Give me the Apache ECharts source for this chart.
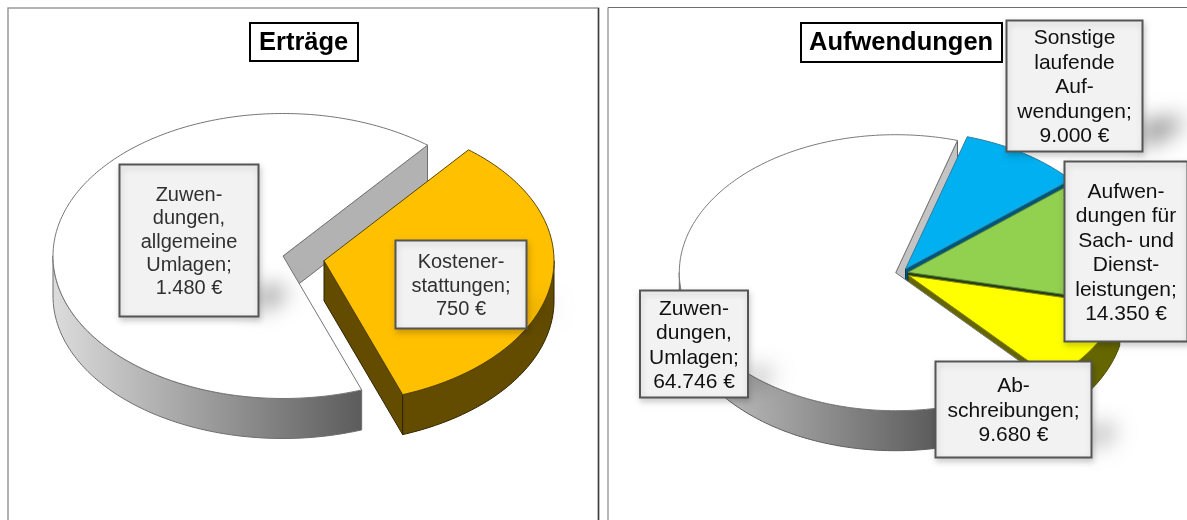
<!DOCTYPE html>
<html lang="de">
<head>
<meta charset="utf-8">
<title>Erträge und Aufwendungen</title>
<style>html,body{margin:0;padding:0;background:#fff}#chart{width:1187px;height:520px;filter:blur(0.35px)}</style>
<script src="https://cdn.jsdelivr.net/npm/echarts@6/dist/echarts.min.js"></script>
</head>
<body>
<div id="chart"></div>
<script>
// ---- data ----
const ertraegeTitle = 'Erträge';
const ertraegeCategories = ['Zuwen-\ndungen,\nallgemeine\nUmlagen', 'Kostener-\nstattungen'];
const ertraegeValues = [1480, 750];

const aufwendungenTitle = 'Aufwendungen';
const aufwendungenCategories = [
  'Zuwen-\ndungen,\nUmlagen',
  'Sonstige\nlaufende\nAuf-\nwendungen',
  'Aufwen-\ndungen für\nSach- und\nDienst-\nleistungen',
  'Ab-\nschreibungen'
];
const aufwendungenValues = [64746, 9000, 14350, 9680];

// ---- layout and style ----
const leftPie = {
  cx: 283, cy: 256, rx: 230, ry: 142.5, depth: 40, startAngle: 70,
  font: 20, lineHeight: 23.4, textColor: '#303030',
  gradient: [53, 361],
  slices: [
    { explode: [0, 0], top: '#ffffff', side: 'gradient', cut: '#b2b2b2', line: '#767676', sideLine: '#6e6e6e',
      box: [119.5, 164.5, 139, 152], shadow: [[259, 288], [286, 288], [286, 294], [259, 312]], shadowAlpha: 0.5 },
    { explode: [41, 4.7], top: '#ffc000', side: '#634c00', cut: '#634c00', line: '#5c4700', sideLine: '#2f2400',
      box: [395.5, 240.5, 131, 88], shadow: [[527, 306], [552, 304], [552, 309], [527, 320]], shadowAlpha: 0.2 }
  ]
};
const rightPie = {
  cx: 904, cy: 271.5, rx: 216.4, ry: 138, depth: 40, startAngle: 48.2,
  font: 21, lineHeight: 24.5, textColor: '#111111',
  gradient: [650, 935],
  slices: [
    { explode: [-8.3, 1.2], top: '#ffffff', side: 'gradient', cut: '#c4c4c4', line: '#7a7a7a', sideLine: '#5e5e5e',
      box: [640, 290.5, 108, 107], shadow: [[748, 372], [772, 370], [772, 376], [748, 388]], shadowAlpha: 0.42 },
    { explode: [1.5, -2.5], top: '#00b0f0', side: '#00567a', cut: '#00567a', line: '#2f7ea0', sideLine: '#003a52',
      box: [1006.5, 20.5, 136, 131], shadow: [[1143, 122], [1182, 118], [1182, 126], [1143, 148]], shadowAlpha: 0.5 },
    { explode: [4, 0.8], top: '#92d050', side: '#24401a', cut: '#24401a', line: '#5d8a30', sideLine: '#1c3014',
      box: [1064.5, 161.5, 123, 180], shadow: null },
    { explode: [4.5, 4], top: '#ffff00', side: '#666600', cut: '#666600', line: '#8a8a00', sideLine: '#4a4a00',
      box: [935.5, 361.5, 156, 96], shadow: [[1092, 428], [1114, 426], [1114, 434], [1092, 448]], shadowAlpha: 0.42 }
  ]
};

const euro = v => v.toLocaleString('de-DE') + ' €';
const rad = d => d * Math.PI / 180;

function pieRenderer(cfg, values, categories) {
  const total = values.reduce((a, b) => a + b, 0);
  return function (params, api) {
    const i = params.dataIndex;
    const before = values.slice(0, i).reduce((a, b) => a + b, 0);
    const a0 = cfg.startAngle + before / total * 360;
    const a1 = a0 + api.value(0) / total * 360;
    const s = cfg.slices[i];
    const ox = cfg.cx + s.explode[0], oy = cfg.cy + s.explode[1];
    const pt = (deg, dz) => [ox + cfg.rx * Math.cos(rad(deg)), oy + cfg.ry * Math.sin(rad(deg)) + (dz || 0)];
    const arc = (from, to, dz) => {
      const n = Math.max(2, Math.ceil(Math.abs(to - from)));
      const out = [];
      for (let k = 0; k <= n; k++) out.push(pt(from + (to - from) * k / n, dz));
      return out;
    };
    const children = [];
    const sideFill = s.side === 'gradient'
      ? new echarts.graphic.LinearGradient(cfg.gradient[0], 0, cfg.gradient[1], 0,
          [{ offset: 0, color: '#dcdcdc' }, { offset: 1, color: '#5c5c5c' }], true)
      : s.side;

    // visible cut face: the closing edge of a slice whose face turns to the viewer
    [[a0, -90], [a1, 90]].forEach(([ang, turn]) => {
      if (Math.sin(rad(ang + turn)) > 0) {
        const p = pt(ang);
        children.push({
          type: 'polygon', z2: 1,
          shape: { points: [[ox, oy], p, [p[0], p[1] + cfg.depth], [ox, oy + cfg.depth]] },
          style: { fill: s.cut, stroke: s.sideLine, lineWidth: 1 }
        });
      }
    });
    // outer wall: only the front half of the ellipse (0..180 degrees, modulo 360)
    for (const shift of [0, 360, -360]) {
      const f = Math.max(a0 + shift, 0), t = Math.min(a1 + shift, 180);
      if (t > f) {
        children.push({
          type: 'polygon', z2: 2,
          shape: { points: arc(f, t, 0).concat(arc(t, f, cfg.depth)) },
          style: { fill: sideFill, stroke: s.sideLine, lineWidth: 1 }
        });
      }
    }
    // top face
    children.push({
      type: 'polygon', z2: 3,
      shape: { points: [[ox, oy]].concat(arc(a0, a1, 0)) },
      style: { fill: s.top, stroke: s.line, lineWidth: 1 }
    });
    // soft streak of shadow next to the label
    if (s.shadow) {
      const far = 3000;
      children.push({
        type: 'polygon', z2: 4,
        shape: { points: s.shadow.map(p => [p[0] - far, p[1]]) },
        style: { fill: '#000', shadowColor: 'rgba(0,0,0,' + s.shadowAlpha + ')', shadowBlur: 22, shadowOffsetX: far }
      });
    }
    // label
    const b = s.box;
    children.push({
      type: 'rect', z2: 5,
      shape: { x: b[0], y: b[1], width: b[2], height: b[3] },
      style: { fill: '#f2f2f2', stroke: '#555555', lineWidth: 2,
               shadowColor: 'rgba(0,0,0,0.18)', shadowBlur: 6, shadowOffsetX: 1, shadowOffsetY: 3 }
    });
    children.push({
      type: 'text', z2: 6,
      style: {
        text: categories[i] + ';\n' + euro(api.value(0)),
        x: b[0] + b[2] / 2, y: b[1] + b[3] / 2 + 1.5,
        align: 'center', verticalAlign: 'middle',
        font: cfg.font + 'px "Liberation Sans", Arial, sans-serif',
        lineHeight: cfg.lineHeight, fill: cfg.textColor
      }
    });
    return { type: 'group', silent: true, children };
  };
}

const chart = echarts.init(document.getElementById('chart'), null, { renderer: 'canvas' });
const titleStyle = { fontFamily: '"Liberation Sans", Arial, sans-serif', fontSize: 25.5, fontWeight: 'bold', color: '#000' };
chart.setOption({
  animation: false,
  backgroundColor: '#fff',
  title: [
    { text: ertraegeTitle, left: 250, top: 23, padding: [7, 10, 5, 9], borderColor: '#000', borderWidth: 2,
      backgroundColor: '#fff', textStyle: titleStyle },
    { text: aufwendungenTitle, left: 801, top: 23, padding: [7, 9, 6, 8], borderColor: '#000', borderWidth: 2,
      backgroundColor: '#fff', textStyle: titleStyle }
  ],
  tooltip: { show: false },
  graphic: [
    { type: 'rect', z: -10, silent: true, shape: { x: 8, y: 8, width: 590.5, height: 540 },
      style: { fill: '#fff', stroke: '#9a9a9a', lineWidth: 1.5 } },
    { type: 'line', z: -9, silent: true, shape: { x1: 598.5, y1: 8, x2: 598.5, y2: 520 },
      style: { stroke: '#3c3c3c', lineWidth: 1.5 } },
    { type: 'rect', z: -10, silent: true, shape: { x: 608, y: 7.5, width: 600, height: 540 },
      style: { fill: '#fff', stroke: '#6e6e6e', lineWidth: 1 } }
  ],
  series: [
    { type: 'custom', name: ertraegeTitle, coordinateSystem: 'none', silent: true,
      data: ertraegeValues.map(v => [v]),
      renderItem: pieRenderer(leftPie, ertraegeValues, ertraegeCategories) },
    { type: 'custom', name: aufwendungenTitle, coordinateSystem: 'none', silent: true,
      data: aufwendungenValues.map(v => [v]),
      renderItem: pieRenderer(rightPie, aufwendungenValues, aufwendungenCategories) }
  ]
});
</script>
</body>
</html>
